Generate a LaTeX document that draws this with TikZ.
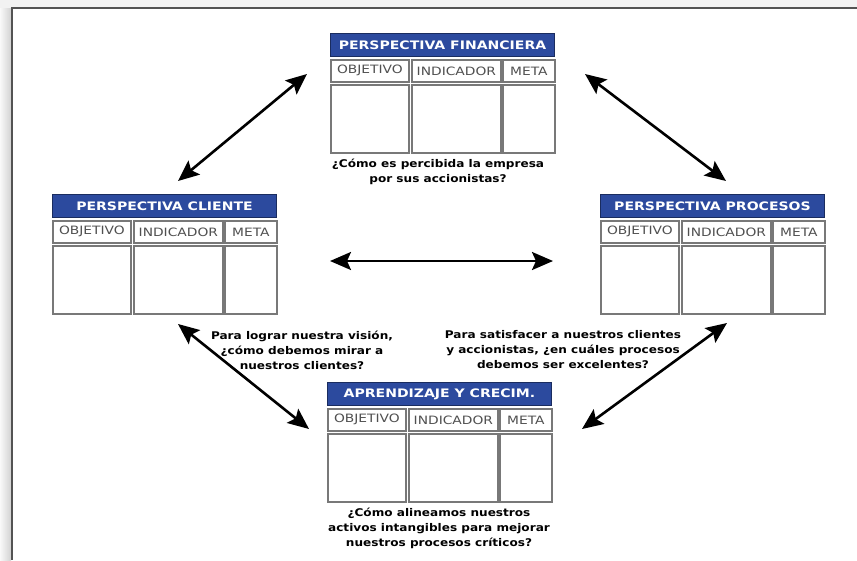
\documentclass[tikz,border=0pt]{standalone}
\usepackage{fontspec}
\usetikzlibrary{arrows.meta}
\newfontfamily\hdrfont{DejaVu Sans}[FakeStretch=1.2]
\newfontfamily\lblfont{DejaVu Sans}[FakeStretch=1.2]
\newfontfamily\capfont{DejaVu Sans}[FakeStretch=1.14]
\definecolor{hdrblue}{RGB}{44,74,158}
\definecolor{cellgray}{RGB}{120,120,120}
\definecolor{lblgray}{RGB}{80,80,80}
\tikzset{
  hdr/.style={draw=hdrblue!60!black, line width=1pt, fill=hdrblue, text=white,
    font=\hdrfont\bfseries\fontsize{11.7}{13}\selectfont, minimum height=23pt,
    inner sep=0pt, anchor=north west},
  lbl/.style={draw=cellgray, line width=1.7pt, fill=white, text=lblgray,
    font=\lblfont\fontsize{11.5}{13}\selectfont, minimum height=22pt,
    inner sep=0pt, anchor=north west},
  cell/.style={draw=cellgray, line width=1.7pt, fill=white, minimum height=68pt,
    inner sep=0pt, anchor=north west},
  captxt/.style={font=\capfont\bfseries\fontsize{10.6}{15}\selectfont, align=center,
    text=black, inner sep=0pt},
  biarrow/.style={{Stealth[length=21pt,width=18pt,inset=4pt]}-{Stealth[length=21pt,width=18pt,inset=4pt]},
    line width=2.6pt, black}
}
\newcommand\bscpanel[4]{%
  \node[hdr, minimum width=224pt] (#1h) at (#2,#3) {#4};
  \node[lbl, minimum width=78pt] (#1o) at (#2,#3+26) {OBJETIVO};
  \node[lbl, minimum width=89pt] (#1i) at (#2+81,#3+26) {INDICADOR};
  \node[lbl, minimum width=52pt] (#1m) at (#2+172,#3+26) {META};
  \node[cell, minimum width=78pt] (#1co) at (#2,#3+51) {};
  \node[cell, minimum width=89pt] (#1ci) at (#2+81,#3+51) {};
  \node[cell, minimum width=52pt] (#1cm) at (#2+172,#3+51) {};
}
\begin{document}
\begin{tikzpicture}[x=1pt,y=-1pt]
\useasboundingbox (0,0) rectangle (857,560);
% page frame with soft shadow
\fill[gray!10] (0,0) rectangle (857,8);
\shade[left color=gray!5, right color=gray!35] (0,8) rectangle (11,560);
\draw[gray!65!black, line width=1.5pt] (857,8) -- (12,8) -- (12,560);

% panels
\bscpanel{fin}{330}{33}{PERSPECTIVA FINANCIERA}
\bscpanel{cli}{52}{194}{PERSPECTIVA CLIENTE}
\bscpanel{pro}{600}{194}{PERSPECTIVA PROCESOS}
\bscpanel{apr}{327}{382}{APRENDIZAJE Y CRECIM.}

% captions
\node[captxt] (capfin) at (438,172) {¿Cómo es percibida la empresa\\por sus accionistas?};
\node[captxt] (capcli) at (302,350) {Para lograr nuestra visión,\\¿cómo debemos mirar a\\nuestros clientes?};
\node[captxt] (cappro) at (563,350) {Para satisfacer a nuestros clientes\\y accionistas, ¿en cuáles procesos\\debemos ser excelentes?};
\node[captxt] (capapr) at (439,528) {¿Cómo alineamos nuestros\\activos intangibles para mejorar\\nuestros procesos críticos?};

% arrow end points
\coordinate (a1s) at (178,181);
\coordinate (a1e) at (307,74);
\coordinate (a2s) at (585,74);
\coordinate (a2e) at (726,181);
\coordinate (a3s) at (330,261);
\coordinate (a3e) at (553,261);
\coordinate (a4s) at (178,324);
\coordinate (a4e) at (309,429);
\coordinate (a5s) at (727,323);
\coordinate (a5e) at (582,429);

\draw[biarrow] (a1s) -- (a1e);
\draw[biarrow] (a2s) -- (a2e);
\draw[biarrow] (a3s) -- (a3e);
\draw[biarrow] (a4s) -- (a4e);
\draw[biarrow] (a5s) -- (a5e);
\end{tikzpicture}
\end{document}
